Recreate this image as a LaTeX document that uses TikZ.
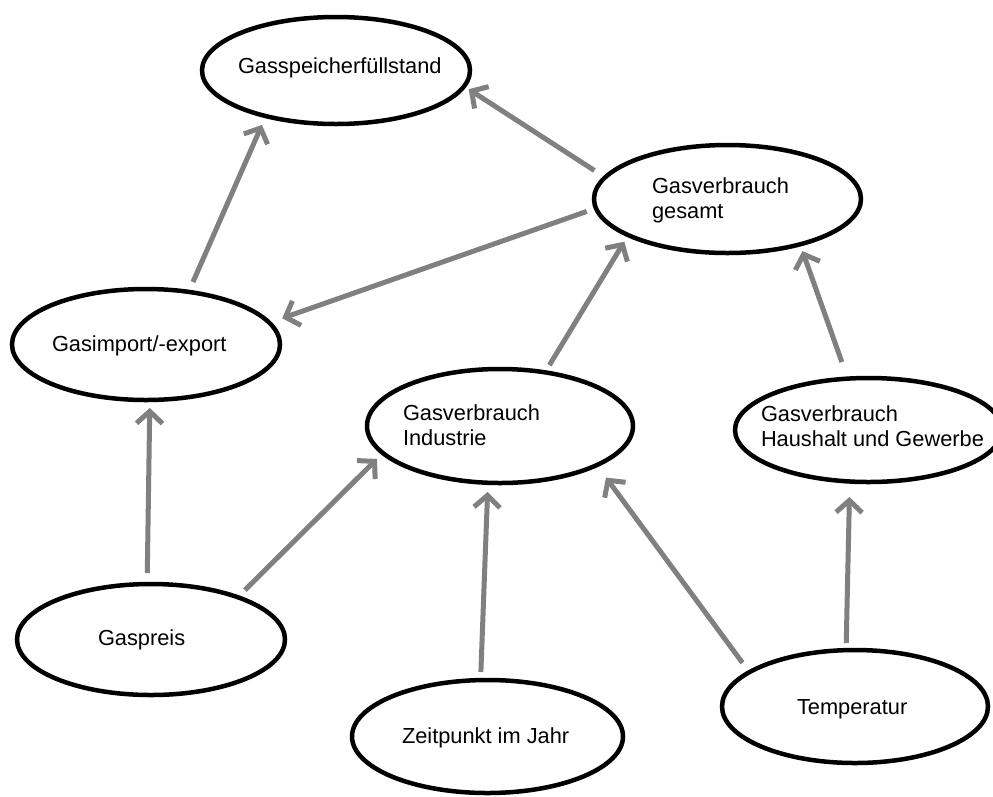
\documentclass[tikz,border=0pt]{standalone}
\usepackage{fontspec}
\setmainfont{Liberation Sans}
\usetikzlibrary{arrows.meta,shapes.geometric}
\definecolor{arrgray}{RGB}{128,128,128}
\begin{document}
\begin{tikzpicture}[x=1pt,y=-1pt,
  ell/.style={draw=black, line width=4.5pt, ellipse, inner sep=0pt, outer sep=0pt},
  txt/.style={inner sep=0pt, outer sep=0pt, anchor=base west, text=black,
              font=\fontsize{21.8pt}{25pt}\selectfont},
  arr/.style={draw=arrgray, line width=5pt, -{Straight Barb[length=12pt,width=26pt]}}]
\useasboundingbox (0,0) rectangle (993,796);
\fill[white] (0,0) rectangle (993,796);

% ellipses
\node[ell, minimum width=268pt, minimum height=107pt] (gs)  at (336,70.5)  {};
\node[ell, minimum width=267pt, minimum height=108pt] (gv)  at (727.5,199) {};
\node[ell, minimum width=268pt, minimum height=111pt] (gi)  at (146,344.5) {};
\node[ell, minimum width=266pt, minimum height=114pt] (ind) at (500,426)   {};
\node[ell, minimum width=267pt, minimum height=104pt] (hh)  at (868.5,430) {};
\node[ell, minimum width=268pt, minimum height=111pt] (gp)  at (151,639.5) {};
\node[ell, minimum width=271pt, minimum height=113pt] (zj)  at (487.5,736.5) {};
\node[ell, minimum width=266pt, minimum height=113pt] (tmp) at (855,706.5) {};

% texts
\node[txt] (gs-t)  at (238,73)    {Gasspeicherfüllstand};
\node[txt] (gv-t)  at (652,193.5) {\begin{tabular}[t]{@{}l@{}}Gasverbrauch\\gesamt\end{tabular}};
\node[txt] (gi-t)  at (52,351)    {Gasimport/-export};
\node[txt] (ind-t) at (403,420)   {\begin{tabular}[t]{@{}l@{}}Gasverbrauch\\Industrie\end{tabular}};
\node[txt] (hh-t)  at (761,421)   {\begin{tabular}[t]{@{}l@{}}Gasverbrauch\\Haushalt und Gewerbe\end{tabular}};
\node[txt] (gp-t)  at (98,645)    {Gaspreis};
\node[txt] (tmp-t) at (797,714)   {Temperatur};
\node[txt] (zj-t)  at (402,743)   {Zeitpunkt im Jahr};

% arrows
\draw[arr, shorten <=10.8pt, shorten >=9.7pt]  (gi.51)   -- (gs.213);
\draw[arr, shorten <=12.8pt, shorten >=5.5pt]  (gv.170)  -- (gs.353);
\draw[arr, shorten <=9.8pt,  shorten >=13.7pt] (gv.184)  -- (gi.10);
\draw[arr, shorten <=8.5pt,  shorten >=7.7pt]  (ind.50)  -- (gv.200);
\draw[arr, shorten <=17.6pt, shorten >=7.2pt]  (hh.112)  -- (gv.328);
\draw[arr, shorten <=11pt,   shorten >=8pt]    (gp.94)   -- (gi.274);
\draw[arr, shorten <=10.2pt, shorten >=8.4pt]  (gp.26)   -- (ind.193);
\draw[arr, shorten <=8.1pt,  shorten >=9.2pt]  (zj.97)   -- (ind.258);
\draw[arr, shorten <=11.7pt, shorten >=15.5pt] (tmp.162) -- (ind.338);
\draw[arr, shorten <=7.1pt,  shorten >=15.5pt] (tmp.99)  -- (hh.250);
\end{tikzpicture}
\end{document}
